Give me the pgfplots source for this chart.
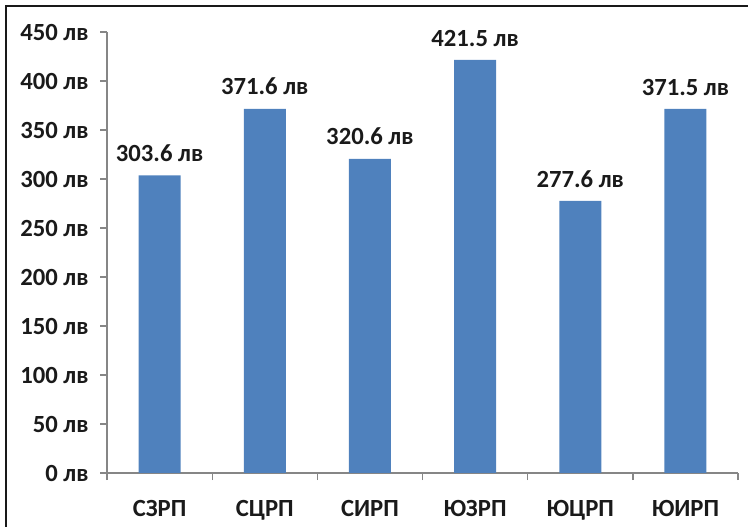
\documentclass[border=0pt]{standalone}
\usepackage{pgfplots}
\pgfplotsset{compat=1.18}
\usepackage{fontspec}
\setmainfont{Carlito}
\definecolor{barblue}{HTML}{4F81BD}
\definecolor{axgray}{HTML}{868686}
\definecolor{txt}{HTML}{1A1A1A}
\begin{document}
\begin{tikzpicture}[x=0.75pt,y=0.75pt]
\path[use as bounding box] (0,0) rectangle (748,527);
\draw[line width=2.2pt,black!90] (6,0) -- (6,521) -- (748,521);
\begin{axis}[
  at={(107*0.75pt,54*0.75pt)}, anchor=south west,
  scale only axis,
  width=631*0.75pt, height=441*0.75pt,
  xmin=-0.5, xmax=5.5, ymin=0, ymax=450,
  axis lines*=left,
  axis line style={axgray, line width=1pt},
  ytick={0,50,...,450},
  yticklabel={\pgfmathprintnumber[assume math mode=true]{\tick}~лв},
  xtick={0,...,5},
  xticklabels={СЗРП,СЦРП,СИРП,ЮЗРП,ЮЦРП,ЮИРП},
  minor xtick={-0.5,0.5,...,5.5},
  major x tick style={draw=none},
  minor x tick style={axgray, line width=1pt},
  ytick style={axgray, line width=1pt},
  tick align=outside,
  major tick length=7*0.75pt,
  minor tick length=7*0.75pt,
  ticklabel style={font=\bfseries\fontsize{18.5}{21}\selectfont, text=txt},
  xticklabel style={yshift=-11.5pt},
  yticklabel style={xshift=-5pt},
  ybar, bar width=42*0.75pt,
  nodes near coords={\pgfmathprintnumber[fixed,precision=1,fixed zerofill,assume math mode=true]{\pgfplotspointmeta}~лв},
  every node near coord/.append style={font=\bfseries\fontsize{18.5}{21}\selectfont, text=txt, yshift=6.75pt},
  clip=false,
]
\addplot[fill=barblue, draw=none] coordinates {(0,303.6) (1,371.6) (2,320.6) (3,421.5) (4,277.6) (5,371.5)};
\end{axis}
\end{tikzpicture}
\end{document}
